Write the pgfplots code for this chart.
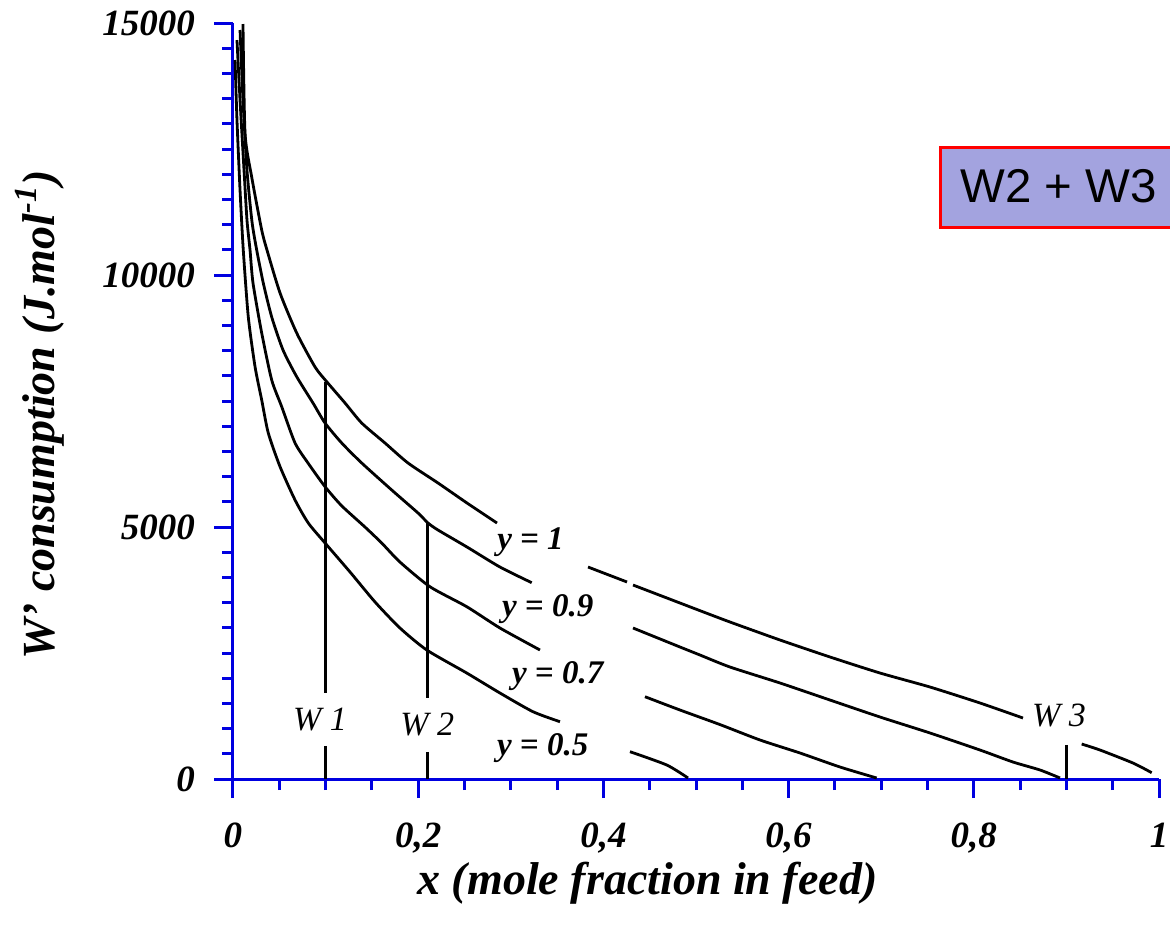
\documentclass[border=0pt]{standalone}
\usepackage{pgfplots}
\pgfplotsset{compat=1.18}
\usepackage{fontspec}
\setmainfont{Liberation Serif}
\newfontfamily\arialfont{Liberation Sans}
\definecolor{axisblue}{RGB}{0,0,224}
\definecolor{boxfill}{RGB}{163,163,223}
\pgfplotsset{curve/.style={black, solid, line width=1.4pt, mark=none, smooth, tension=0.4},
  wline/.style={black, solid, line width=1.2pt, mark=none}}
\begin{document}
\begin{tikzpicture}
\begin{axis}[
 at={(0,0)}, anchor=south west,
 scale only axis, width=463pt, height=378pt,
 xmin=0, xmax=1, ymin=0, ymax=15000,
 axis x line*=bottom, axis y line*=left,
 axis line style={axisblue, line width=1.5pt},
 xtick={0,0.2,0.4,0.6,0.8,1},
 xticklabels={0,{0,2},{0,4},{0,6},{0,8},1},
 ytick={0,5000,10000,15000},
 yticklabels={0,5000,10000,15000},
 minor x tick num=3, minor y tick num=9,
 tick align=outside,
 major tick length=9.5pt, minor tick length=5.5pt,
 major tick style={axisblue, line width=1.5pt},
 minor tick style={axisblue, line width=1.5pt},
 ticklabel style={font=\fontsize{18.5}{20}\selectfont\bfseries\itshape},
 xticklabel style={yshift=-9pt},
 yticklabel style={xshift=-6pt},
 xlabel={x (mole fraction in feed)},
 ylabel={W' consumption (J.mol\textsuperscript{-1})},
 label style={font=\fontsize{23}{25}\selectfont\bfseries\itshape},
 xlabel style={at={(axis description cs:0.4476,-0.1380)}, anchor=center},
 ylabel style={at={(axis description cs:-0.2084,0.4815)}, anchor=center},
 clip=false,
 scaled ticks=false,
]
% y = 1
\addplot[curve] coordinates {(0.0108,14980) (0.0130,12817) (0.0202,11944) (0.0310,10893) (0.0367,10496) (0.0508,9643) (0.0688,8849) (0.0886,8175) (0.1012,7883) (0.1210,7460) (0.1390,7063) (0.1641,6667) (0.1890,6270) (0.2214,5873) (0.2527,5476) (0.2851,5079)};
\addplot[curve] coordinates {(0.3834,4206) (0.4255,3909)};
\addplot[curve] coordinates {(0.4320,3849) (0.4827,3492) (0.5043,3340) (0.5367,3115) (0.5907,2758) (0.6447,2421) (0.6987,2103) (0.7527,1825) (0.8067,1508) (0.8531,1210)};
\addplot[curve] coordinates {(0.9165,694) (0.9363,575) (0.9719,317) (0.9921,125)};
% y = 0.9
\addplot[curve] coordinates {(0.0076,14861) (0.0108,13472) (0.0151,12083) (0.0205,11059) (0.0256,10496) (0.0327,9841) (0.0418,9167) (0.0540,8512) (0.0688,7982) (0.0864,7460) (0.0994,7063) (0.1174,6667) (0.1390,6270) (0.1714,5734) (0.1998,5278) (0.2106,5079) (0.2214,4940) (0.2527,4603) (0.2883,4206) (0.3226,3895)};
\addplot[curve] coordinates {(0.4320,2996) (0.4827,2619) (0.5043,2460) (0.5367,2222) (0.5907,1905) (0.6447,1567) (0.6987,1230) (0.7527,913) (0.8067,575) (0.8423,337) (0.8715,179) (0.8931,20)};
% y = 0.7
\addplot[curve] coordinates {(0.0043,14662) (0.0076,13472) (0.0119,12083) (0.0151,11091) (0.0184,10496) (0.0216,9841) (0.0310,8849) (0.0418,7917) (0.0526,7387) (0.0670,6667) (0.0810,6270) (0.0994,5800) (0.1174,5420) (0.1425,5000) (0.1606,4682) (0.1803,4305) (0.2127,3815) (0.2524,3419) (0.2883,2996) (0.3315,2560)};
\addplot[curve] coordinates {(0.4449,1633) (0.4827,1369) (0.5259,1080) (0.5691,774) (0.6123,516) (0.6555,238) (0.6951,20)};
% y = 0.5
\addplot[curve] coordinates {(0.0022,14266) (0.0043,13075) (0.0076,11686) (0.0111,10496) (0.0165,9172) (0.0238,8181) (0.0310,7520) (0.0381,6865) (0.0508,6197) (0.0670,5536) (0.0813,5079) (0.0994,4683) (0.1264,4107) (0.1534,3512) (0.1803,2996) (0.2092,2560) (0.2524,2103) (0.2883,1706) (0.3240,1335) (0.3531,1137)};
\addplot[curve] coordinates {(0.4287,542) (0.4684,278) (0.4914,20)};
% W lines
\addplot[wline] coordinates {(0.1,7883) (0.1,1706)};
\addplot[wline] coordinates {(0.1,655) (0.1,0)};
\addplot[wline] coordinates {(0.21,5079) (0.21,1607)};
\addplot[wline] coordinates {(0.21,536) (0.21,0)};
\addplot[wline] coordinates {(0.9,675) (0.9,0)};
% labels
\node[anchor=base west, inner sep=0pt, font=\fontsize{16.5}{18}\selectfont\bfseries\itshape] at (axis cs:0.285,4544) {y = 1};
\node[anchor=base west, inner sep=0pt, font=\fontsize{16.5}{18}\selectfont\bfseries\itshape] at (axis cs:0.2902,3220) {y = 0.9};
\node[anchor=base west, inner sep=0pt, font=\fontsize{16.5}{18}\selectfont\bfseries\itshape] at (axis cs:0.3010,1899) {y = 0.7};
\node[anchor=base west, inner sep=0pt, font=\fontsize{16.5}{18}\selectfont\bfseries\itshape] at (axis cs:0.2848,476) {y = 0.5};
\node[anchor=base west, inner sep=0pt, font=\fontsize{17}{19}\selectfont\itshape] at (axis cs:0.0645,958) {W 1};
\node[anchor=base west, inner sep=0pt, font=\fontsize{17}{19}\selectfont\itshape] at (axis cs:0.1803,873) {W 2};
\node[anchor=base west, inner sep=0pt, font=\fontsize{17}{19}\selectfont\itshape] at (axis cs:0.8625,1038) {W 3};
% box
\draw[red, line width=1.5pt, fill=boxfill] (axis cs:0.7635,10952) rectangle (axis cs:1.06,12520);
\node[font=\arialfont\fontsize{23.7}{26}\selectfont] at (axis cs:0.8915,11766) {W2 + W3};
\end{axis}
\pgfresetboundingbox
\path[use as bounding box] (-116.5pt,-74.5pt) rectangle (468.5pt,389.5pt);
\end{tikzpicture}
\end{document}
